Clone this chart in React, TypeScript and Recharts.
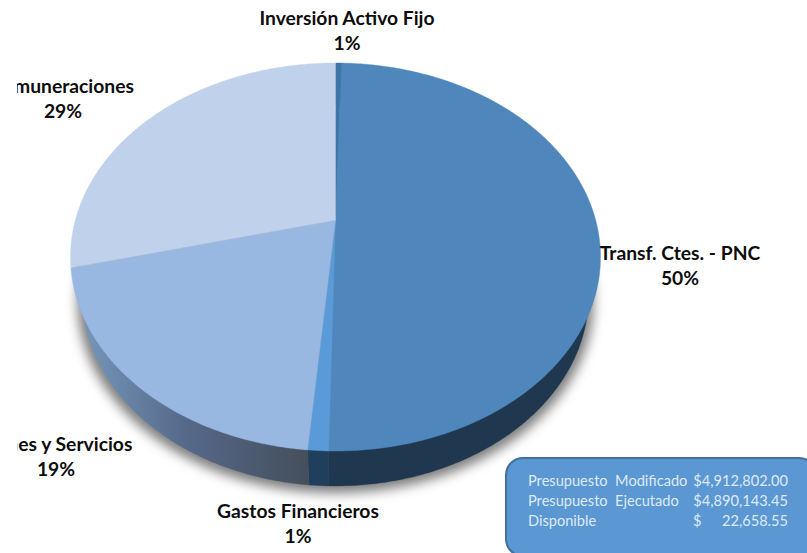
import { PieChart, Pie, Cell } from "recharts";

// slices run clockwise from 12 o'clock
const sliceNames = [
  "Inversión Activo Fijo",
  "Transf. Ctes. - PNC",
  "Gastos Financieros",
  "Bienes y Servicios",
  "Remuneraciones",
];
const sliceValues = [0.44, 49.9, 1.05, 19.7, 28.91];
const slicePercents = ["1%", "50%", "1%", "19%", "29%"];
const topColors = ["#3f74a6", "#4f87bd", "#5a9ad8", "#98b8e2", "#c0d1ec"];
const rimColors = ["#1f3a55", "#20384f", "#1f3f5c", "url(#rimBienes)", "#5a6f88"];
const labelCenters = [
  [347, 18],
  [680, 253],
  [298, 511],
  [56, 444],
  [63, 86],
];

const budgetNames = ["Presupuesto  Modificado", "Presupuesto  Ejecutado", "Disponible"];
const budgetAmounts = ["$4,912,802.00", "$4,890,143.45", "22,658.55"];

const W = 807;
const H = 553;
const FONT = "Lato, Carlito, sans-serif";

// the tilted disc: squashed circle, apex pushed up by perspective
const CX = 335.5;
const CY = 257;
const RX = 265;
const RY = 194;
const TILT = -0.19;
// lower edge of the disc side
const BOTTOM = { cy: 296, rx: 253, ry: 190 };

function project(angle: number) {
  const rad = (angle * Math.PI) / 180;
  const x = Math.cos(rad);
  const y = -Math.sin(rad);
  const d = 1 + TILT * y;
  return { u: (x * Math.sqrt(1 - TILT * TILT)) / d, v: (y + TILT) / d };
}

function arcPoints(a0: number, a1: number, cx: number, cy: number, rx: number, ry: number) {
  const n = Math.max(2, Math.ceil(Math.abs(a1 - a0) * 2));
  const pts: string[] = [];
  for (let i = 0; i <= n; i++) {
    const p = project(a0 + ((a1 - a0) * i) / n);
    pts.push(`${(cx + p.u * rx).toFixed(2)} ${(cy + p.v * ry).toFixed(2)}`);
  }
  return pts;
}

function TopSlice(props: any) {
  const { cx, cy, outerRadius, startAngle, endAngle, fill } = props;
  const ry = (outerRadius * RY) / RX;
  const pts = arcPoints(startAngle, endAngle, cx, cy, outerRadius, ry);
  const apexY = cy + TILT * ry;
  return <path d={`M${cx} ${apexY}L${pts.join("L")}Z`} fill={fill} stroke={fill} strokeWidth={0.4} />;
}

function RimSlice(props: any) {
  const { cx, cy, outerRadius, startAngle, endAngle, fill } = props;
  const ry = (outerRadius * RY) / RX;
  // pulled in a little so nothing peeks out round the top face
  const upper = arcPoints(startAngle, endAngle, cx, cy, outerRadius - 1.5, ry - 1.5);
  const lower = arcPoints(endAngle, startAngle, cx, BOTTOM.cy, BOTTOM.rx, BOTTOM.ry);
  return <path d={`M${upper.join("L")}L${lower.join("L")}Z`} fill={fill} stroke={fill} strokeWidth={0.3} />;
}

function ShadowDisc(props: any) {
  const { cx, startAngle, endAngle } = props;
  const pts = arcPoints(startAngle, endAngle, cx, BOTTOM.cy + 5, BOTTOM.rx + 5, BOTTOM.ry + 2);
  return <path d={`M${pts.join("L")}Z`} fill="#7d7d7d" style={{ filter: "blur(6px)" }} />;
}

const sliceData = sliceNames.map((name, i) => ({ name, value: sliceValues[i] }));
const shadowData = [{ name: "shadow", value: sliceValues.reduce((a, b) => a + b, 0) }];

export default function App() {
  const pieProps = {
    dataKey: "value",
    cx: CX,
    cy: CY,
    outerRadius: RX,
    startAngle: 90,
    endAngle: -270,
    isAnimationActive: false,
    stroke: "none",
    label: false,
    labelLine: false,
  };
  return (
    <div style={{ position: "fixed", left: 0, top: 0, width: W, height: H, overflow: "hidden", background: "#fff" }}>
      <PieChart width={W} height={H} margin={{ top: 0, right: 0, bottom: 0, left: 0 }}>
        <defs>
          <linearGradient id="rimBienes" gradientUnits="userSpaceOnUse" x1={85} y1={0} x2={307} y2={0}>
            <stop offset="0%" stopColor="#7496b8" />
            <stop offset="45%" stopColor="#56698a" />
            <stop offset="100%" stopColor="#454f5c" />
          </linearGradient>
        </defs>
        <Pie {...pieProps} data={shadowData} shape={ShadowDisc} fill="#7d7d7d" />
        <Pie {...pieProps} data={sliceData} shape={RimSlice}>
          {sliceData.map((d, i) => (
            <Cell key={d.name} fill={rimColors[i]} />
          ))}
        </Pie>
        <Pie {...pieProps} data={sliceData} shape={TopSlice}>
          {sliceData.map((d, i) => (
            <Cell key={d.name} fill={topColors[i]} />
          ))}
        </Pie>
      </PieChart>

      {/* labels get cut off on the left in the original */}
      <div style={{ position: "absolute", left: 17, top: 0, width: W - 17, height: H, overflow: "hidden" }}>
        {sliceNames.map((name, i) => (
          <div
            key={name}
            style={{
              position: "absolute",
              left: labelCenters[i][0] - 17 - 150,
              top: labelCenters[i][1] - 13,
              width: 300,
              textAlign: "center",
              fontFamily: FONT,
              fontWeight: 700,
              fontSize: 19.3,
              lineHeight: "25px",
              color: "#0d0d0d",
              whiteSpace: "nowrap",
            }}
          >
            {name}
            <br />
            {slicePercents[i]}
          </div>
        ))}
      </div>

      <div
        style={{
          position: "absolute",
          left: 505,
          top: 457,
          width: 312,
          height: 100,
          boxSizing: "border-box",
          background: "#5a97d3",
          border: "2px solid #41719c",
          borderRadius: 18,
          fontFamily: FONT,
          fontSize: 14.6,
          lineHeight: "20px",
          color: "#dfeaf6",
        }}
      >
        {budgetNames.map((name, i) => (
          <div key={name} style={{ position: "absolute", left: 21, top: 12 + i * 20, whiteSpace: "pre" }}>
            {name}
            <span style={{ position: "absolute", left: 165, top: 0 }}>{i === 2 ? "$" : ""}</span>
            <span style={{ position: "absolute", left: 160, width: 100, top: 0, textAlign: "right" }}>{budgetAmounts[i]}</span>
          </div>
        ))}
      </div>
    </div>
  );
}
